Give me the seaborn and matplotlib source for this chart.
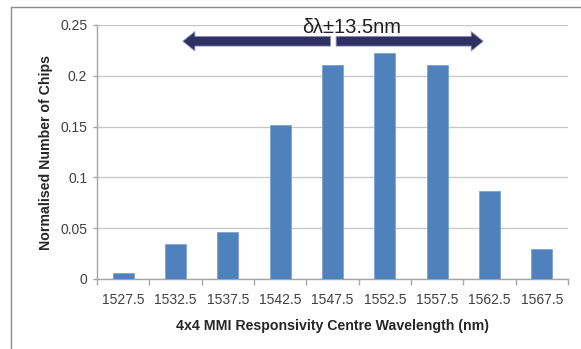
import matplotlib
matplotlib.use("Agg")
import matplotlib.pyplot as plt
import numpy as np
import pandas as pd
import seaborn as sns
from matplotlib.lines import Line2D
from matplotlib.patches import FancyArrow

wavelengths = ["1527.5", "1532.5", "1537.5", "1542.5", "1547.5",
               "1552.5", "1557.5", "1562.5", "1567.5"]
fractions = [0.0055, 0.034, 0.046, 0.152, 0.211, 0.222, 0.211, 0.087, 0.030]

df = pd.DataFrame({"wavelength": wavelengths, "fraction": fractions})

sns.set_theme(style="white")
plt.rcParams["font.family"] = ["Liberation Sans", "DejaVu Sans"]

fig = plt.figure(figsize=(5.81, 3.49), dpi=100)
ax = fig.add_axes([97 / 581, 1 - 279 / 349, 471 / 581, 254 / 349])

sns.barplot(data=df, x="wavelength", y="fraction", color="#4f81bd",
            saturation=1, width=0.4, edgecolor="#7ea3d0", linewidth=0.6,
            ax=ax, zorder=3)

ax.set_ylim(0, 0.25)
ax.set_xlim(-0.5, len(wavelengths) - 0.5)
ax.set_yticks(np.arange(0, 0.2501, 0.05))
ax.set_yticklabels(["0", "0.05", "0.1", "0.15", "0.2", "0.25"])
ax.grid(axis="y", color="#c8c8c8", linewidth=1, zorder=0)
ax.set_axisbelow(True)

for side in ["top", "right"]:
    ax.spines[side].set_visible(False)
for side in ["left", "bottom"]:
    ax.spines[side].set_color("#a6a6a6")
    ax.spines[side].set_linewidth(1)

ax.set_xticks(np.arange(-0.5, len(wavelengths)), minor=True)
ax.tick_params(axis="x", which="major", length=0, pad=10, labelsize=10,
               labelcolor="#404040")
ax.tick_params(axis="x", which="minor", length=4, color="#a6a6a6", width=1,
               direction="out", bottom=True)
ax.tick_params(axis="y", length=3, color="#a6a6a6", width=1, left=True,
               labelsize=10, labelcolor="#404040", pad=4)

ax.set_xlabel("4x4 MMI Responsivity Centre Wavelength (nm)",
              fontsize=10.2, fontweight="bold", labelpad=9)
ax.set_ylabel("Normalised Number of Chips", fontsize=10.2, fontweight="bold",
              labelpad=5)

# spread annotation
arrow_kw = dict(width=0.0095, head_width=0.019, head_length=0.23,
                length_includes_head=True, facecolor="#2e3061",
                edgecolor="#8c8fb0", linewidth=0.6, zorder=5)
ax.add_patch(FancyArrow(3.96, 0.234, -2.82, 0, **arrow_kw))
ax.add_patch(FancyArrow(4.07, 0.234, 2.81, 0, **arrow_kw))
ax.text(4.36, 0.2425, "δλ±13.5nm", ha="center", va="baseline",
        fontsize=14.5, color="#222222", zorder=6)

# outer chart frame
fig.add_artist(Line2D([11 / 581, 1], [1 - 7 / 349, 1 - 7 / 349],
                      color="#8c8c8c", linewidth=1))
fig.add_artist(Line2D([11 / 581, 11 / 581], [0, 1 - 7 / 349],
                      color="#8c8c8c", linewidth=1))

fig.savefig("out.png", dpi=100)
